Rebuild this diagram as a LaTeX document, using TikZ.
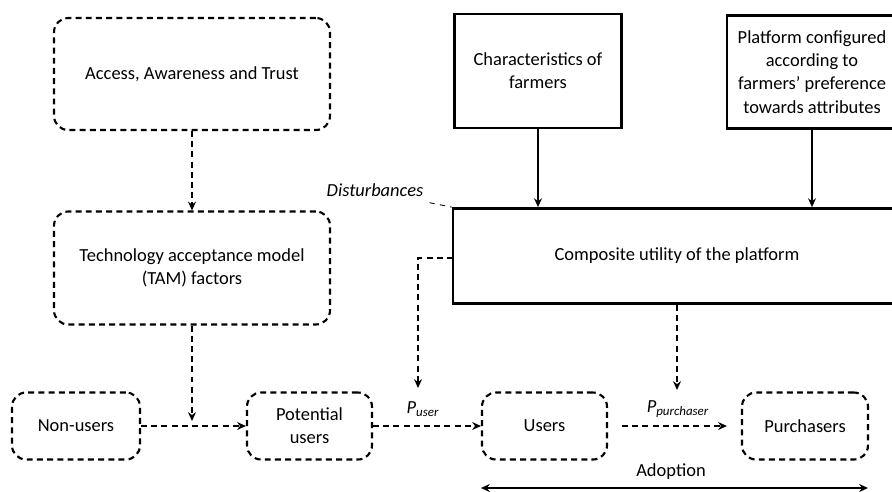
\documentclass[tikz,border=0pt]{standalone}
\usepackage{fontspec}
\setmainfont{Carlito}
\usetikzlibrary{arrows.meta,positioning,calc}

\tikzset{
  dashbox/.style={draw, dash pattern=on 3.4pt off 2.4pt, line width=1.2pt,
    rounded corners=8pt, align=center, inner sep=0pt},
  solidbox/.style={draw, line width=1.6pt, align=center, inner sep=0pt},
  dasharrow/.style={dash pattern=on 3.4pt off 2.4pt, line width=1.2pt,
    -{Stealth[length=5pt,width=4.5pt]}},
  solidarrow/.style={line width=1.1pt, -{Stealth[length=5pt,width=4.5pt]}},
}

\begin{document}
\begin{tikzpicture}[x=0.02cm, y=-0.02cm, font=\fontsize{10.5}{13.2}\selectfont]
  \clip (0,0) rectangle (892,491);

  % left column
  \node[dashbox, minimum width=5.52cm, minimum height=2.24cm] (access) at (192,74)
    {Access, Awareness and Trust};
  \node[dashbox, minimum width=5.52cm, minimum height=2.26cm] (tam) at (192,268)
    {Technology acceptance model\\(TAM) factors};

  % bottom row
  \node[dashbox, minimum width=2.56cm, minimum height=1.34cm] (nonusers) at (76,426) {Non-users};
  \node[dashbox, minimum width=2.5cm, minimum height=1.34cm] (potential) at (309.5,426) {Potential\\users};
  \node[dashbox, minimum width=2.5cm, minimum height=1.34cm] (users) at (544.5,426) {Users};
  \node[dashbox, minimum width=2.52cm, minimum height=1.34cm] (purchasers) at (805,426) {Purchasers};

  % utility part
  \node[solidbox, minimum width=3.34cm, minimum height=2.28cm] (chars) at (538,71)
    {Characteristics of\\farmers};
  \node[solidbox, minimum width=3.4cm, minimum height=2.26cm] (platform) at (812,72)
    {Platform configured\\according to\\farmers' preference\\towards attributes};
  \node[solidbox, minimum width=8.96cm, minimum height=1.9cm] (composite) at (677,256)
    {Composite utility of the platform};

  \node[font=\fontsize{10.5}{13}\selectfont\itshape] (dist) at (375,190) {Disturbances};
  \draw[dashed, line width=0.5pt] (dist.south east) -- (composite.north west);

  \draw[solidarrow] (chars.south) -- (chars.south |- composite.north);
  \draw[solidarrow] (platform.south) -- (platform.south |- composite.north);

  \draw[dasharrow] (access) -- (tam);
  \coordinate (join) at (192,421);
  \draw[dasharrow] (tam) -- (join);
  \draw[dasharrow] (nonusers) -- (potential);
  \draw[dasharrow] (potential) -- (users);
  \draw[dasharrow, shorten <=8pt, shorten >=8pt] (users) -- (purchasers);

  \coordinate (uout) at (453,258);
  \coordinate (puser) at (418,388);
  \draw[dasharrow] (uout) -| (puser);
  \coordinate (ppurch) at (677,390);
  \draw[dasharrow] (composite.south) -- (ppurch);

  \node (lpuser) at (423,409) {\textit{P\textsubscript{user}}};
  \node (lppurch) at (678,409) {\textit{P\textsubscript{purchaser}}};

  % adoption
  \coordinate (ad1) at (481,488);
  \coordinate (ad2) at (868,488);
  \draw[line width=1.1pt, {Stealth[length=5pt,width=4.5pt]}-{Stealth[length=5pt,width=4.5pt]}] (ad1) -- (ad2);
  \node (adopt) at (671,472) {Adoption};
\end{tikzpicture}
\end{document}
